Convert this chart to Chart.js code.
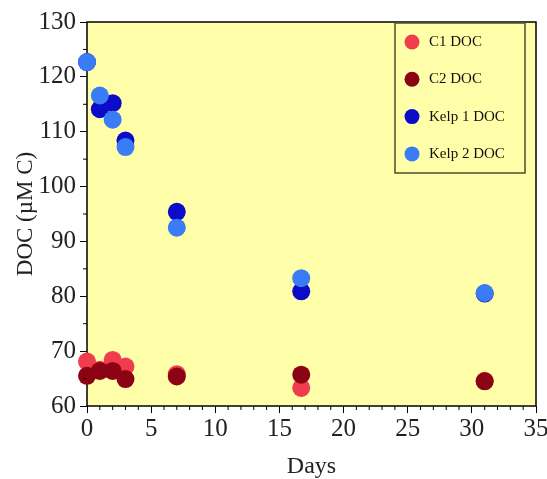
<!DOCTYPE html>
<html>
<head>
    <title>DOC over time</title>
    <script src="https://cdn.jsdelivr.net/npm/chart.js"></script>
    <style>
        body { margin: 0; background: #fff; }
        #wrap { width: 547px; height: 479px; }
    </style>
</head>
<body>
<div id="wrap"><canvas id="myChart" width="547" height="479"></canvas></div>
<script>
    // data
    var seriesNames = ['C1 DOC', 'C2 DOC', 'Kelp 1 DOC', 'Kelp 2 DOC'];
    var seriesColors = ['#f03c4c', '#8c0414', '#0c0cc8', '#3a7cf5'];
    var c1Days = [0, 1, 2, 3, 7, 16.7, 31];
    var c1Doc = [68.1, 66.6, 68.4, 67.2, 65.8, 63.3, 64.6];
    var c2Days = [0, 1, 2, 3, 7, 16.7, 31];
    var c2Doc = [65.5, 66.4, 66.4, 64.9, 65.4, 65.7, 64.5];
    var kelp1Days = [0, 1, 2, 3, 7, 16.7, 31];
    var kelp1Doc = [122.7, 114.1, 115.2, 108.4, 95.4, 80.9, 80.5];
    var kelp2Days = [0, 1, 2, 3, 7, 16.7, 31];
    var kelp2Doc = [122.7, 116.6, 112.2, 107.2, 92.5, 83.3, 80.6];
    var xTicks = [0, 5, 10, 15, 20, 25, 30, 35];
    var yTicks = [60, 70, 80, 90, 100, 110, 120, 130];

    function pts(xs, ys) {
        return xs.map(function (x, i) { return { x: x, y: ys[i] }; });
    }

    var allDays = [c1Days, c2Days, kelp1Days, kelp2Days];
    var allDoc = [c1Doc, c2Doc, kelp1Doc, kelp2Doc];
    var drawOrder = [2, 1, 4, 3]; // lower is drawn on top

    var datasets = seriesNames.map(function (name, i) {
        return {
            label: name,
            data: pts(allDays[i], allDoc[i]),
            backgroundColor: seriesColors[i],
            borderColor: seriesColors[i],
            borderWidth: 0,
            pointRadius: 9,
            clip: false,
            order: drawOrder[i]
        };
    });

    var serif = "'Liberation Serif', 'DejaVu Serif', serif";

    var framePlugin = {
        id: 'frame',
        beforeDatasetsDraw: function (chart) {
            var a = chart.chartArea, c = chart.ctx;
            c.save();
            c.fillStyle = '#ffffaa';
            c.fillRect(a.left, a.top, a.right - a.left, a.bottom - a.top);
            c.strokeStyle = '#000';
            c.lineWidth = 1.5;
            c.strokeRect(a.left, a.top, a.right - a.left, a.bottom - a.top);
            c.restore();
        },
        afterDraw: function (chart) {
            var a = chart.chartArea, c = chart.ctx;
            var xs = chart.scales.x, ys = chart.scales.y;
            c.save();
            // minor ticks
            c.strokeStyle = '#000';
            c.lineWidth = 1;
            c.beginPath();
            for (var d = 0; d <= 35; d++) {
                if (d % 5 === 0) continue;
                var px = xs.getPixelForValue(d);
                c.moveTo(px, a.bottom);
                c.lineTo(px, a.bottom + 4);
            }
            for (var v = 65; v < 130; v += 10) {
                var py = ys.getPixelForValue(v);
                c.moveTo(a.left, py);
                c.lineTo(a.left - 4, py);
            }
            c.stroke();

            // legend box
            var lx = 395, ly = 23, lw = 130, lh = 150;
            c.strokeStyle = '#4d4d2a';
            c.lineWidth = 1.5;
            c.strokeRect(lx, ly, lw, lh);
            c.font = '15px ' + serif;
            c.textBaseline = 'middle';
            chart.data.datasets.forEach(function (ds, i) {
                var cy = ly + 19 + i * 37.3;
                c.beginPath();
                c.fillStyle = ds.backgroundColor;
                c.arc(lx + 17, cy, 7.5, 0, Math.PI * 2);
                c.fill();
                c.fillStyle = '#111';
                c.fillText(ds.label, lx + 34, cy);
            });
            c.restore();
        }
    };

    var ctx = document.getElementById('myChart').getContext('2d');
    var myChart = new Chart(ctx, {
        type: 'scatter',
        data: { datasets: datasets },
        options: {
            responsive: false,
            animation: false,
            layout: { padding: { left: 12, right: 11, top: 22, bottom: 0 } },
            plugins: {
                legend: { display: false },
                tooltip: { enabled: false }
            },
            scales: {
                x: {
                    type: 'linear',
                    min: 0,
                    max: 35,
                    afterBuildTicks: function (s) {
                        s.ticks = xTicks.map(function (v) { return { value: v }; });
                    },
                    afterFit: function (s) {
                        s.height = 73;
                        s.paddingLeft = 0;
                        s.paddingRight = 0;
                    },
                    grid: { drawOnChartArea: false, tickLength: 7, color: '#000' },
                    border: { display: false },
                    ticks: { color: '#222', font: { family: serif, size: 25 }, padding: 1, maxRotation: 0 },
                    title: {
                        display: true,
                        text: 'Days',
                        color: '#222',
                        font: { family: serif, size: 24, lineHeight: 1 },
                        padding: { top: 0, bottom: 0 }
                    }
                },
                y: {
                    type: 'linear',
                    min: 60,
                    max: 130,
                    afterBuildTicks: function (s) {
                        s.ticks = yTicks.map(function (v) { return { value: v }; });
                    },
                    afterFit: function (s) {
                        s.width = 75;
                        s.paddingTop = 0;
                        s.paddingBottom = 0;
                    },
                    grid: { drawOnChartArea: false, tickLength: 7, color: '#000' },
                    border: { display: false },
                    ticks: { color: '#222', font: { family: serif, size: 25 }, padding: 4 },
                    title: {
                        display: true,
                        text: 'DOC (\u00b5M C)',
                        color: '#222',
                        font: { family: serif, size: 23 },
                        padding: { top: 0, bottom: 0 }
                    }
                }
            }
        },
        plugins: [framePlugin]
    });
</script>
</body>
</html>
